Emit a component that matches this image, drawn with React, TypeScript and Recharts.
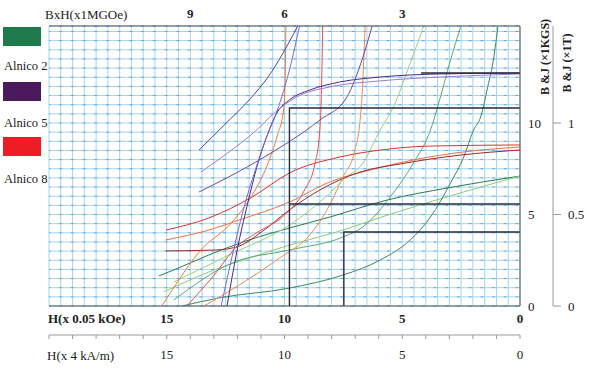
import React from 'react'
import { LineChart, Line, XAxis, YAxis, CartesianGrid } from 'recharts'

// H in x0.05 kOe (same numbers as x4 kA/m), B in kGs
type Pt = [number, number]

// Alnico 5
const a5Main: Pt[] = [[0, 12.73], [3.38, 12.68], [5.94, 12.51], [7.65, 12.24], [8.93, 11.8], [9.79, 11.26], [10.3, 10.6], [10.73, 9.34], [11.15, 7.7], [11.58, 5.52], [12.01, 3.06], [12.44, 0]]
const a5Knee: Pt[] = [[0, 12.68], [3.38, 12.51], [5.94, 12.3], [8.08, 11.97], [9.49, 11.42], [10.43, 10.55], [11.28, 9.51], [12.35, 8.42], [13.55, 7.32]]
const a5Hyp1: Pt[] = [[9.44, 15.3], [9.87, 14.26], [10.64, 12.62], [11.5, 11.26], [12.56, 9.89], [13.63, 8.52]]
const a5Hyp2: Pt[] = [[6.28, 15.3], [6.71, 13.44], [7.35, 11.42], [8.5, 10.16], [11.07, 7.98], [13.63, 6.23]]
const a5Steep: Pt[] = [[9.36, 15.3], [9.79, 12.9], [10.3, 10.71], [10.81, 9.07], [11.24, 7.43], [11.75, 5.25], [12.26, 2.51], [12.69, 0]]

// Alnico 8
const a8Flat1: Pt[] = [[0, 8.8], [3.8, 8.74], [5.94, 8.52], [7.65, 8.14], [9.79, 7.27], [11.37, 5.96], [13.21, 4.81], [15.04, 4.15]]
const a8Flat2: Pt[] = [[0, 8.69], [2.39, 8.42], [4.53, 7.98], [6.37, 7.43], [8.08, 6.78], [9.79, 5.68], [11.92, 4.7], [13.21, 4.15], [15.04, 3.61]]
const a8Flat3: Pt[] = [[0, 8.52], [2.52, 8.25], [5.09, 7.76], [6.79, 7.32], [8.5, 6.34], [9.79, 5.25], [10.98, 4.04], [11.92, 3.28], [12.91, 3.06], [15.04, 3.01]]
const a8Steep1: Pt[] = [[9.94, 15.3], [9.97, 12.35], [10.04, 10.71], [10.3, 9.34], [10.73, 7.7], [11.37, 6.07], [12.22, 4.59], [13.63, 2.95], [14.49, 1.42], [15.21, 0]]
const a8Steep2: Pt[] = [[8.38, 15.3], [8.42, 12.35], [8.5, 9.62], [8.72, 7.7], [9.15, 6.34], [10.0, 4.97], [11.2, 3.99], [12.05, 3.22], [12.99, 1.69], [14.15, 0]]
const a8Steep3: Pt[] = [[6.58, 15.3], [6.67, 12.35], [6.79, 10.16], [7.01, 8.52], [7.52, 7.05], [8.08, 5.52], [8.93, 3.88], [10.21, 2.62], [11.92, 1.15], [13.42, 0]]

// Alnico 2
const a2Flat1: Pt[] = [[0, 7.1], [3.08, 6.45], [5.64, 5.79], [8.08, 4.86], [9.79, 4.26], [11.5, 3.61], [13.21, 2.79], [14.7, 1.97], [15.34, 1.64]]
const a2Flat2: Pt[] = [[0, 7.1], [2.39, 6.23], [5.21, 5.14], [8.08, 3.93], [9.79, 3.33], [11.5, 2.62], [13.21, 1.86], [14.49, 1.15], [15.13, 0.77]]
const a2Hyp1: Pt[] = [[4.1, 15.25], [4.66, 13.28], [5.38, 10.87], [5.94, 9.62], [6.67, 7.81], [7.52, 6.89], [8.08, 6.17], [9.79, 4.43], [12.35, 2.79], [14.7, 1.31]]
const a2Hyp2: Pt[] = [[2.52, 15.25], [2.95, 13.44], [3.5, 10.87], [3.8, 9.62], [4.53, 7.81], [5.51, 5.96], [6.67, 4.32], [7.52, 3.77], [9.79, 3.06], [12.22, 2.35], [14.7, 0.33]]
const a2Hyp3: Pt[] = [[0.94, 15.25], [1.11, 13.61], [1.37, 11.97], [1.67, 10.33], [1.97, 9.62], [2.39, 8.14], [2.95, 6.72], [3.8, 4.86], [4.66, 3.61], [5.94, 2.51], [7.52, 1.69], [9.79, 0.98], [12.78, 0.44], [14.36, 0]]

// operating point guide lines
const opA5: Pt[] = [[0, 10.82], [9.79, 10.82], [9.79, 0]]
const opA8: Pt[] = [[0, 5.57], [9.79, 5.57]]
const opA2: Pt[] = [[0, 4.04], [7.48, 4.04], [7.48, 0]]
const brA5: Pt[] = [[0, 12.73], [4.2, 12.73]]

const hLabels = [0, 5, 10, 15]
const bLabels = [0, 5, 10]
const teslaTicks = [0, 0.5, 1]
const topTickH = [14, 10, 5]
const topTickLabels = ['9', '6', '3']

const legendItems = [
  { name: 'Alnico 2', color: '#1f7a4c' },
  { name: 'Alnico 5', color: '#4a1a5c' },
  { name: 'Alnico 8', color: '#ee1c25' },
]

const curves = [
  { id: 'a2Flat1', data: a2Flat1, color: '#2a7a50' },
  { id: 'a2Flat2', data: a2Flat2, color: '#8ccc70' },
  { id: 'a2Hyp1', data: a2Hyp1, color: '#9ad27a' },
  { id: 'a2Hyp2', data: a2Hyp2, color: '#5aa870' },
  { id: 'a2Hyp3', data: a2Hyp3, color: '#3a8a60' },
  { id: 'a8Flat1', data: a8Flat1, color: '#e0302a' },
  { id: 'a8Flat2', data: a8Flat2, color: '#ee7040' },
  { id: 'a8Flat3', data: a8Flat3, color: '#9a2a2a' },
  { id: 'a8Steep1', data: a8Steep1, color: '#f07a30' },
  { id: 'a8Steep2', data: a8Steep2, color: '#e85040' },
  { id: 'a8Steep3', data: a8Steep3, color: '#f08a50' },
  { id: 'a5Main', data: a5Main, color: '#4a2c82' },
  { id: 'a5Knee', data: a5Knee, color: '#a07ad0' },
  { id: 'a5Hyp1', data: a5Hyp1, color: '#4848a8' },
  { id: 'a5Hyp2', data: a5Hyp2, color: '#6a4aa8' },
  { id: 'a5Steep', data: a5Steep, color: '#7a6ad8' },
]

const guides = [
  { id: 'opA5', data: opA5 },
  { id: 'opA8', data: opA8 },
  { id: 'opA2', data: opA2 },
  { id: 'brA5', data: brA5 },
]

const toPts = (arr: Pt[]) => arr.map(([h, b]) => ({ h, b }))

const hGrid = Array.from({ length: 41 }, (_, i) => i * 0.5)
const bGrid = Array.from({ length: 31 }, (_, i) => i * 0.5)

const serif = "'Times New Roman', 'Liberation Serif', Tinos, Times, serif"
const tickBold = { fontFamily: serif, fontSize: 13, fill: '#222', fontWeight: 'bold' as const }
const tickNormal = { fontFamily: serif, fontSize: 13, fill: '#222' }

const txt = (style: React.CSSProperties): React.CSSProperties => ({
  position: 'absolute',
  fontFamily: serif,
  fontSize: 13,
  color: '#222',
  whiteSpace: 'nowrap',
  lineHeight: 1,
  ...style,
})

export default function App() {
  return (
    <div style={{ position: 'absolute', left: 0, top: 0, width: 591, height: 370, background: '#fff' }}>
      <LineChart width={591} height={370} margin={{ top: 0, right: 0, bottom: 0, left: 49 }}>
        <CartesianGrid stroke="#a3d5f1" strokeWidth={1} />
        <CartesianGrid stroke="#4a86cc" strokeOpacity={0.65} strokeWidth={1} vertical={false} strokeDasharray="3 8.7" strokeDashoffset={1.5} />

        <XAxis
          type="number"
          dataKey="h"
          domain={[0, 20]}
          reversed
          allowDataOverflow
          ticks={hGrid}
          interval={0}
          tickFormatter={(v: number) => (hLabels.includes(v) ? String(v) : '')}
          tickLine={false}
          tickSize={6}
          tickMargin={2}
          axisLine={{ stroke: '#555' }}
          height={29}
          tick={tickBold}
        />
        <XAxis
          xAxisId="ka"
          type="number"
          dataKey="h"
          domain={[0, 20]}
          reversed
          allowDataOverflow
          ticks={hGrid.filter((v) => Number.isInteger(v))}
          interval={0}
          tickFormatter={(v: number) => (hLabels.includes(v) ? String(v) : '')}
          tickSize={4}
          tickMargin={11}
          tickLine={{ stroke: '#999' }}
          axisLine={{ stroke: '#999' }}
          height={35}
          tick={tickNormal}
        />
        <XAxis
          xAxisId="top"
          orientation="top"
          type="number"
          dataKey="h"
          domain={[0, 20]}
          reversed
          allowDataOverflow
          ticks={topTickH}
          interval={0}
          tickFormatter={(v: number) => topTickLabels[topTickH.indexOf(v)] ?? ''}
          tickLine={false}
          tickSize={6}
          tickMargin={2}
          axisLine={{ stroke: '#555' }}
          height={26}
          tick={tickBold}
        />
        <YAxis
          orientation="right"
          type="number"
          dataKey="b"
          domain={[0, 15.3]}
          allowDataOverflow
          ticks={bGrid}
          interval={0}
          tickFormatter={(v: number) => (bLabels.includes(v) ? String(v) : '')}
          tickLine={false}
          tickSize={4}
          tickMargin={4}
          axisLine={{ stroke: '#555' }}
          width={33}
          tick={tickNormal}
        />
        <YAxis
          yAxisId="t"
          orientation="right"
          type="number"
          domain={[0, 1.53]}
          allowDataOverflow
          ticks={teslaTicks}
          interval={0}
          tickSize={8}
          tickMargin={7}
          tickLine={{ stroke: '#999' }}
          axisLine={{ stroke: '#999' }}
          width={38}
          tick={tickNormal}
        />
        <YAxis yAxisId="left" orientation="left" type="number" domain={[0, 15.3]} width={0} tick={false} tickLine={false} axisLine={{ stroke: '#555' }} />

        {curves.map((c) => (
          <Line
            key={c.id}
            data={toPts(c.data)}
            dataKey="b"
            type="monotone"
            stroke={c.color}
            strokeWidth={1}
            dot={false}
            activeDot={false}
            isAnimationActive={false}
          />
        ))}
        {guides.map((g) => (
          <Line
            key={g.id}
            data={toPts(g.data)}
            dataKey="b"
            type="linear"
            stroke="#2a2a3a"
            strokeWidth={1.4}
            dot={false}
            activeDot={false}
            isAnimationActive={false}
          />
        ))}
      </LineChart>

      {/* legend on the left */}
      {legendItems.map((item, i) => (
        <React.Fragment key={item.name}>
          <div style={{ position: 'absolute', left: 3, top: 27 + i * 55, width: 38, height: 19, background: item.color }} />
          <div style={txt({ left: 4, top: 60 + i * 56.5, fontSize: 12.5 })}>{item.name}</div>
        </React.Fragment>
      ))}

      <div style={txt({ left: 45, top: 8, fontSize: 13 })}>BxH(x1MGOe)</div>
      <div style={txt({ left: 48, top: 312, fontWeight: 'bold', fontSize: 13 })}>H(x 0.05 kOe)</div>
      <div style={txt({ left: 47, top: 349 })}>H(x 4 kA/m)</div>

      <div style={txt({ left: 545, top: 57, fontSize: 12, transform: 'translate(-50%, -50%) rotate(-90deg)', fontWeight: 'bold' })}>B &amp;J (×1KGS)</div>
      <div style={txt({ left: 567, top: 63, fontSize: 12, transform: 'translate(-50%, -50%) rotate(-90deg)', fontWeight: 'bold' })}>B &amp;J (×1T)</div>
    </div>
  )
}
